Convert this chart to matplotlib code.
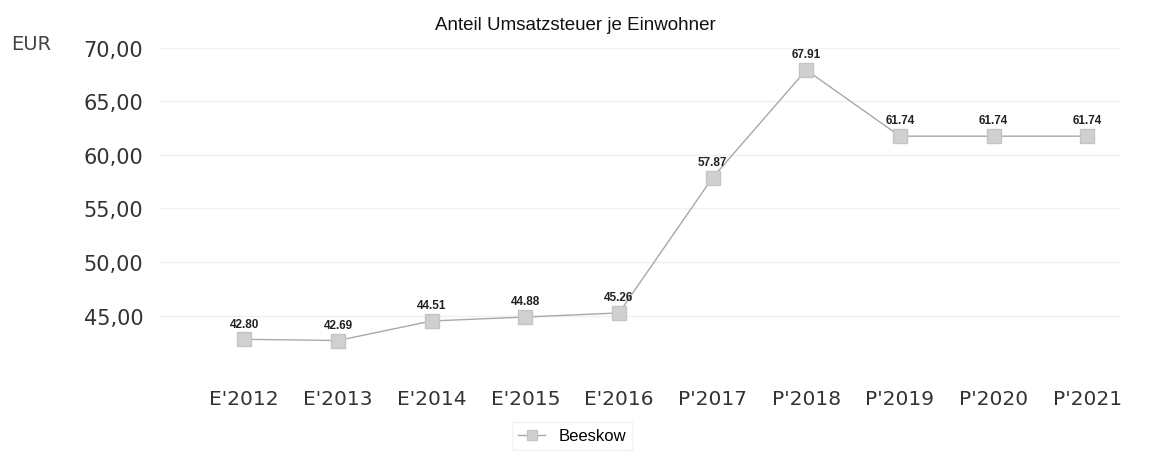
import numpy as np
import matplotlib.pyplot as plt

years = ["E'2012", "E'2013", "E'2014", "E'2015", "E'2016",
         "P'2017", "P'2018", "P'2019", "P'2020", "P'2021"]
beeskow = [42.80, 42.69, 44.51, 44.88, 45.26, 57.87, 67.91, 61.74, 61.74, 61.74]
yticks = [45, 50, 55, 60, 65, 70]

fig = plt.figure(figsize=(11.6, 4.6), dpi=100)
ax = fig.add_axes([160 / 1160, 1 - 365 / 460, 960 / 1160, 325 / 460])

x = np.arange(len(years))
ax.plot(x, beeskow, color="#a8a8a8", lw=1.0, marker="s", markersize=9.5,
        markerfacecolor="#d0d0d0", markeredgecolor="#c4c4c4", label="Beeskow")

for xi, v in zip(x, beeskow):
    ax.annotate("{:.2f}".format(v), (xi, v), xytext=(0, 7), textcoords="offset points",
                ha="center", va="bottom", fontsize=8.5, fontweight="bold",
                family="Liberation Sans", color="#222222")

ax.set_xlim(-0.9, 9.35)
ax.set_ylim(40.5, 70.8)
ax.set_xticks(x)
ax.set_xticklabels(years, fontsize=14.5, color="#333333")
ax.set_yticks(yticks)
ax.set_yticklabels(["{:.2f}".format(t).replace(".", ",") for t in yticks],
                   fontsize=15, color="#333333")
ax.tick_params(length=0)
ax.tick_params(axis="y", pad=12)
ax.tick_params(axis="x", pad=18)
ax.grid(axis="y", color="#f0f0f0", lw=1)
for s in ax.spines.values():
    s.set_visible(False)

fig.text(575 / 1160, 1 - 25 / 460, "Anteil Umsatzsteuer je Einwohner", ha="center", va="center",
         fontsize=13.5, family="Liberation Sans", color="#111111")
fig.text(11 / 1160, 1 - 45 / 460, "EUR", ha="left", va="center", fontsize=14, color="#444444")

leg = fig.legend(loc="center", bbox_to_anchor=(572 / 1160, 1 - 437 / 460), frameon=True,
                 prop={"family": "Liberation Sans", "size": 12}, handlelength=1.6,
                 fancybox=False, edgecolor="#f0f0f0", markerscale=0.8)

fig.savefig("out.png", dpi=100)
